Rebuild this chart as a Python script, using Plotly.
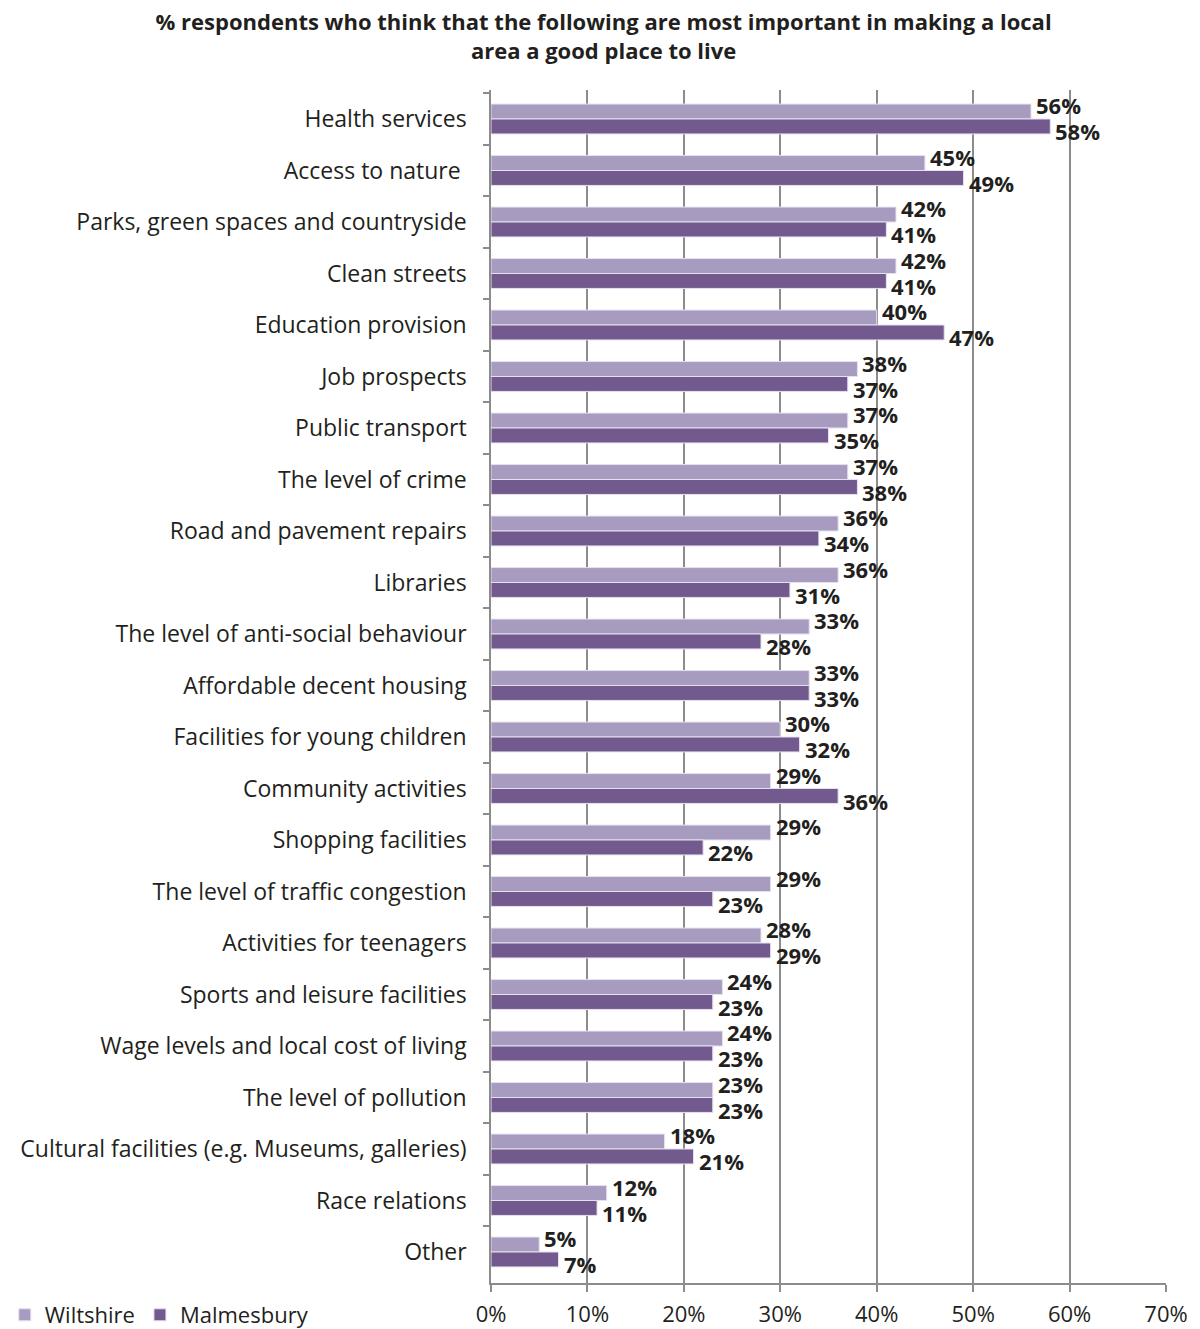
import plotly.graph_objects as go

categories = [
    "Health services",
    "Access to nature ",
    "Parks, green spaces and countryside",
    "Clean streets",
    "Education provision",
    "Job prospects",
    "Public transport",
    "The level of crime",
    "Road and pavement repairs",
    "Libraries",
    "The level of anti-social behaviour",
    "Affordable decent housing",
    "Facilities for young children",
    "Community activities",
    "Shopping facilities",
    "The level of traffic congestion",
    "Activities for teenagers",
    "Sports and leisure facilities",
    "Wage levels and local cost of living",
    "The level of pollution",
    "Cultural facilities (e.g. Museums, galleries)",
    "Race relations",
    "Other",
]

wiltshire = [56, 45, 42, 42, 40, 38, 37, 37, 36, 36, 33, 33, 30, 29, 29, 29, 28, 24, 24, 23, 18, 12, 5]
malmesbury = [58, 49, 41, 41, 47, 37, 35, 38, 34, 31, 28, 33, 32, 36, 22, 23, 29, 23, 23, 23, 21, 11, 7]

x_ticks = [0, 10, 20, 30, 40, 50, 60, 70]
x_tick_labels = ["0%", "10%", "20%", "30%", "40%", "50%", "60%", "70%"]

COL_W = "#A89BC0"
COL_M = "#735A8E"
FONT = "Open Sans"
TEXT = "#231F20"
AXIS = "#8C8C8C"

fig = go.Figure()
fig.add_trace(go.Bar(
    name="Wiltshire", y=categories, x=wiltshire, orientation="h",
    marker=dict(color=COL_W, line=dict(color="#E6E0EE", width=1)),
))
fig.add_trace(go.Bar(
    name="Malmesbury", y=categories, x=malmesbury, orientation="h",
    marker=dict(color=COL_M, line=dict(color="#E6E0EE", width=1)),
))

# value labels sit just past the end of each bar, nudged up / down per series
annotations = []
for cat, w, m in zip(categories, wiltshire, malmesbury):
    annotations.append(dict(
        x=w, y=cat, text=f"<b>{w}%</b>", showarrow=False,
        xanchor="left", yanchor="middle", xshift=3, yshift=14,
        font=dict(family=FONT, size=22, color=TEXT),
    ))
    annotations.append(dict(
        x=m, y=cat, text=f"<b>{m}%</b>", showarrow=False,
        xanchor="left", yanchor="middle", xshift=3, yshift=-12,
        font=dict(family=FONT, size=22, color=TEXT),
    ))

fig.update_layout(
    width=1200, height=1329,
    margin=dict(l=491, r=34, t=90, b=46, autoexpand=False),
    paper_bgcolor="white", plot_bgcolor="white",
    barmode="group", bargap=0.42, bargroupgap=0,
    font=dict(family=FONT, size=23, color=TEXT),
    title=dict(
        text="<b>% respondents who think that the following are most important in making a local<br>area a good place to live</b>",
        x=0.503, xanchor="center", yref="container", y=1 - 30 / 1329, yanchor="top",
        font=dict(family=FONT, size=22, color=TEXT),
    ),
    legend=dict(
        orientation="h", xref="container", yref="container",
        x=0.004, xanchor="left", y=14 / 1329, yanchor="middle",
        font=dict(family=FONT, size=22, color=TEXT),
        traceorder="normal", itemwidth=30, tracegroupgap=0,
    ),
    annotations=annotations,
    xaxis=dict(
        range=[0, 70], tickvals=x_ticks, ticktext=x_tick_labels,
        showgrid=True, gridcolor=AXIS, gridwidth=1.5,
        showline=True, linecolor=AXIS, linewidth=1.5,
        ticks="outside", ticklen=7, tickcolor=AXIS, tickwidth=1.5,
        ticklabelstandoff=4,
        tickfont=dict(family=FONT, size=22, color=TEXT),
        zeroline=False, fixedrange=True,
    ),
    yaxis=dict(
        autorange="reversed", type="category",
        showline=True, linecolor=AXIS, linewidth=1.5,
        ticks="outside", ticklen=6, tickcolor=AXIS, tickwidth=1.5,
        tickson="boundaries", ticklabelstandoff=18,
        tickfont=dict(family=FONT, size=23, color=TEXT),
        showgrid=False, fixedrange=True,
    ),
)

fig.write_html("out.html")
